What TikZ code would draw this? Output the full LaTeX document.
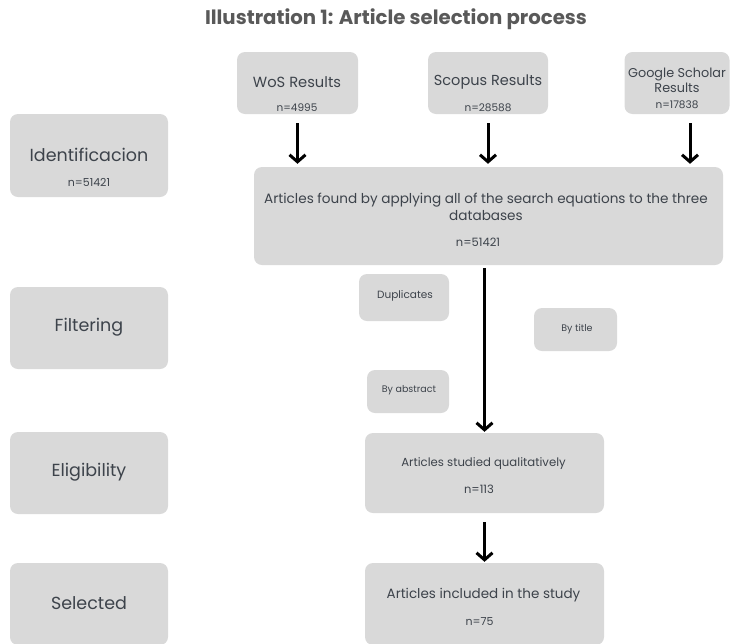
\documentclass[tikz,border=0pt]{standalone}
\usepackage{fontspec}
\setmainfont{Poppins}
\usetikzlibrary{arrows.meta}
\definecolor{boxgray}{RGB}{217,217,217}
\definecolor{inkgray}{RGB}{61,67,75}
\definecolor{titlegray}{RGB}{89,89,89}

\begin{document}
\begin{tikzpicture}
[x=1pt,y=-1pt,
 box/.style={rectangle,fill=boxgray,rounded corners=8pt,inner sep=0pt},
 txt/.style={text=inkgray,inner sep=0pt,align=center,font=\fontsize{#1}{#1}\selectfont},
 arr/.style={-{Straight Barb[length=7pt,width=16pt]},line width=3pt}]
  \useasboundingbox (0,0) rectangle (730,643);

  \node[text=titlegray,font=\fontsize{19.7}{19.7}\selectfont\bfseries] (title) at (396,19) {Illustration 1: Article selection process};

  % sources
  \node[box,minimum width=121,minimum height=62] (wos) at (297.5,83) {};
  \node[box,minimum width=120,minimum height=62] (scopus) at (488,83) {};
  \node[box,minimum width=105,minimum height=62] (gs) at (677,83) {};
  \node[txt=14.7] (wosname) at (297,82) {WoS Results};
  \node[txt=10.5] (wosn) at (297,108) {n=4995};
  \node[txt=14.5] (scopusname) at (488,82) {Scopus Results};
  \node[txt=10.5] (scopusn) at (488,108) {n=28588};
  \node[txt=12.8,font=\fontsize{12.8}{15}\selectfont] (gsname) at (677,80.5) {Google Scholar\\Results};
  \node[txt=10.5] (gsn) at (677,105) {n=17838};

  % stages
  \node[box,minimum width=158,minimum height=83] (ident) at (89,155.5) {};
  \node[box,minimum width=158,minimum height=82] (filter) at (89,328) {};
  \node[box,minimum width=158,minimum height=82] (elig) at (89,473) {};
  \node[box,minimum width=158,minimum height=82] (sel) at (89,604) {};
  \node[txt=17.5] (identname) at (89,155) {Identificacion};
  \node[txt=11] (identn) at (89,182) {n=51421};
  \node[txt=17.5] (filtername) at (89,327) {Filtering};
  \node[txt=17.5] (eligname) at (89,472) {Eligibility};
  \node[txt=17.5] (selname) at (89,603) {Selected};

  % flow
  \node[box,minimum width=469,minimum height=98] (found) at (488.5,216) {};
  \node[txt=13.6,font=\fontsize{13.6}{17}\selectfont] (foundname) at (486,206.5) {Articles found by applying all of the search equations to the three\\databases};
  \node[txt=11.5] (foundn) at (478,242) {n=51421};

  \node[box,minimum width=90,minimum height=47] (dup) at (404,297.5) {};
  \node[box,minimum width=83,minimum height=43] (bytitle) at (575.5,329.5) {};
  \node[box,minimum width=82,minimum height=43] (byabs) at (408,391.5) {};
  \node[txt=10.5] (dupname) at (405,296) {Duplicates};
  \node[txt=9.5] (bytitlename) at (577,329) {By title};
  \node[txt=9.5] (byabsname) at (409,390) {By abstract};

  \node[box,minimum width=239,minimum height=80] (studied) at (484.5,473) {};
  \node[txt=11.7] (studiedname) at (483.5,464) {Articles studied qualitatively};
  \node[txt=11.5] (studiedn) at (479,489) {n=113};
  \node[box,minimum width=239,minimum height=82] (incl) at (484.5,604) {};
  \node[txt=13.5] (inclname) at (483.5,595) {Articles included in the study};
  \node[txt=11] (incln) at (479.5,622) {n=75};

  \foreach \from/\to in {wos/found,scopus/found}
    \draw[arr,shorten <=9pt,shorten >=3pt] (\from.south) -- (\from.south |- \to.north);
  \draw[arr,shorten <=9pt,shorten >=3pt] ([xshift=13pt]gs.south) -- ([xshift=13pt]gs.south |- found.north);
  \draw[arr,shorten <=3pt,shorten >=1pt] (studied.north |- found.south) -- (studied.north);
  \draw[arr,shorten <=9pt,shorten >=1pt] (studied.south) -- (incl.north);
\end{tikzpicture}
\end{document}
